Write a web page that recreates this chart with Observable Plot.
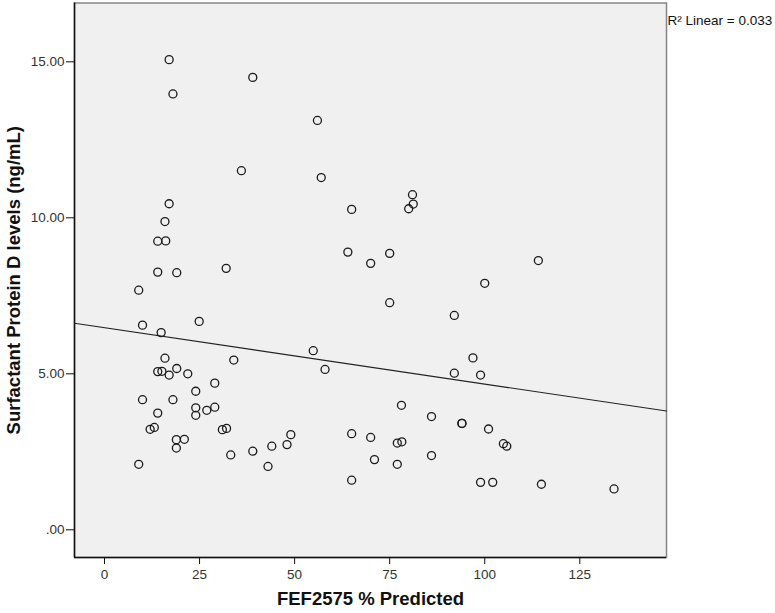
<!DOCTYPE html>
<html>
<head>
<meta charset="utf-8">
<script src="https://cdn.jsdelivr.net/npm/d3@7"></script>
<script src="https://cdn.jsdelivr.net/npm/@observablehq/plot@0.6"></script>
<style>
  html, body { margin: 0; padding: 0; background: #ffffff; }
  #chart svg { display: block; }
</style>
</head>
<body>
<div id="chart"></div>
<script>
// FEF2575 % Predicted (x)
const fef = [
  17.0, 39.0, 18.0, 36.0, 17.0, 15.9, 14.0, 16.1, 14.0, 19.0,
  32.0, 9.0, 10.0, 24.9, 14.9, 15.9, 34.0, 14.0, 15.1, 17.0,
  19.0, 21.9, 29.0, 24.0, 10.0, 18.0, 24.0, 24.0, 26.9, 29.0,
  14.0, 12.0, 13.1, 31.0, 32.1, 18.9, 21.0, 18.9, 9.0, 33.2,
  39.0, 56.0, 57.0, 65.0, 81.0, 81.2, 80.0, 64.0, 70.0, 75.0,
  100.0, 75.0, 92.0, 54.9, 58.0, 96.9, 92.0, 98.9, 78.1, 86.0,
  94.0, 94.0, 101.0, 44.0, 43.0, 48.0, 49.0, 65.0, 70.0, 71.0,
  77.0, 78.2, 77.0, 86.0, 65.0, 98.9, 102.1, 104.9, 105.8, 114.9,
  134.0, 114.1
];
// Surfactant Protein D levels (ng/mL) (y)
const spd = [
  15.07, 14.50, 13.97, 11.51, 10.45, 9.88, 9.25, 9.26, 8.26, 8.24,
  8.38, 7.68, 6.56, 6.68, 6.32, 5.50, 5.44, 5.07, 5.08, 4.96,
  5.17, 5.00, 4.70, 4.44, 4.17, 4.17, 3.91, 3.67, 3.83, 3.93,
  3.74, 3.22, 3.28, 3.21, 3.25, 2.89, 2.90, 2.62, 2.10, 2.40,
  2.52, 13.12, 11.29, 10.27, 10.74, 10.44, 10.29, 8.90, 8.54, 8.86,
  7.90, 7.28, 6.87, 5.74, 5.14, 5.51, 5.02, 4.96, 3.99, 3.63,
  3.41, 3.41, 3.23, 2.68, 2.03, 2.73, 3.05, 3.08, 2.96, 2.25,
  2.78, 2.82, 2.10, 2.38, 1.59, 1.52, 1.52, 2.76, 2.68, 1.46,
  1.31, 8.63
];

const xTicks = [0, 25, 50, 75, 100, 125];
const xTickLabels = ["0", "25", "50", "75", "100", "125"];
const yTicks = [0, 5, 10, 15];
const yTickLabels = [".00", "5.00", "10.00", "15.00"];
const xDomain = [-7.89, 147.8];
const yDomain = [-0.888, 16.885];
const xLabel = "FEF2575 % Predicted";
const yLabel = "Surfactant Protein D levels (ng/mL)";
const fitNote = "R² Linear = 0.033";

const points = fef.map((x, i) => ({x, y: spd[i]}));

// least-squares fit computed from the data
const mx = d3.mean(fef), my = d3.mean(spd);
const sxy = d3.sum(fef, (x, i) => (x - mx) * (spd[i] - my));
const sxx = d3.sum(fef, x => (x - mx) ** 2);
const slope = sxy / sxx;
const intercept = my - slope * mx;
const fitLine = xDomain.map(x => ({x, y: intercept + slope * x}));

const font = "'Liberation Sans', Arial, sans-serif";

const chart = Plot.plot({
  width: 775,
  height: 613,
  marginLeft: 74,
  marginRight: 109,
  marginTop: 2.5,
  marginBottom: 56,
  style: {fontFamily: font, fontSize: "13.5px", color: "#222", background: "#ffffff"},
  x: {domain: xDomain},
  y: {domain: yDomain},
  marks: [
    Plot.frame({fill: "#f0f0f0", stroke: "#858585", strokeWidth: 1.5}),
    Plot.ruleX([xDomain[0]], {stroke: "#111", strokeWidth: 1.5}),
    Plot.ruleY([yDomain[0]], {stroke: "#111", strokeWidth: 1.5}),
    Plot.axisX({
      ticks: xTicks,
      tickFormat: d => xTickLabels[xTicks.indexOf(d)],
      tickSize: 7,
      tickPadding: 5,
      label: null,
      stroke: "#111",
      fill: "#333",
      fontSize: 13.5
    }),
    Plot.axisY({
      ticks: yTicks,
      tickFormat: d => yTickLabels[yTicks.indexOf(d)],
      tickSize: 8,
      tickPadding: 2,
      label: null,
      stroke: "#111",
      fill: "#333",
      fontSize: 13.5
    }),
    Plot.line(fitLine, {x: "x", y: "y", stroke: "#222", strokeWidth: 1.2}),
    Plot.dot(points, {x: "x", y: "y", r: 4, stroke: "#1a1a1a", strokeWidth: 1.3, fill: "none"}),
    Plot.text([fitNote], {frameAnchor: "top-right", textAnchor: "start", dx: 1, dy: 12.5, fontSize: 13.5, fill: "#111"}),
    Plot.text([yLabel], {frameAnchor: "left", textAnchor: "middle", rotate: -90, dx: -60, fontSize: 18.5, fontWeight: "bold", fill: "#111"}),
    Plot.text([xLabel], {frameAnchor: "bottom", textAnchor: "middle", dy: 47, fontSize: 18.5, fontWeight: "bold", fill: "#111"})
  ]
});
document.getElementById("chart").appendChild(chart);
</script>
</body>
</html>
